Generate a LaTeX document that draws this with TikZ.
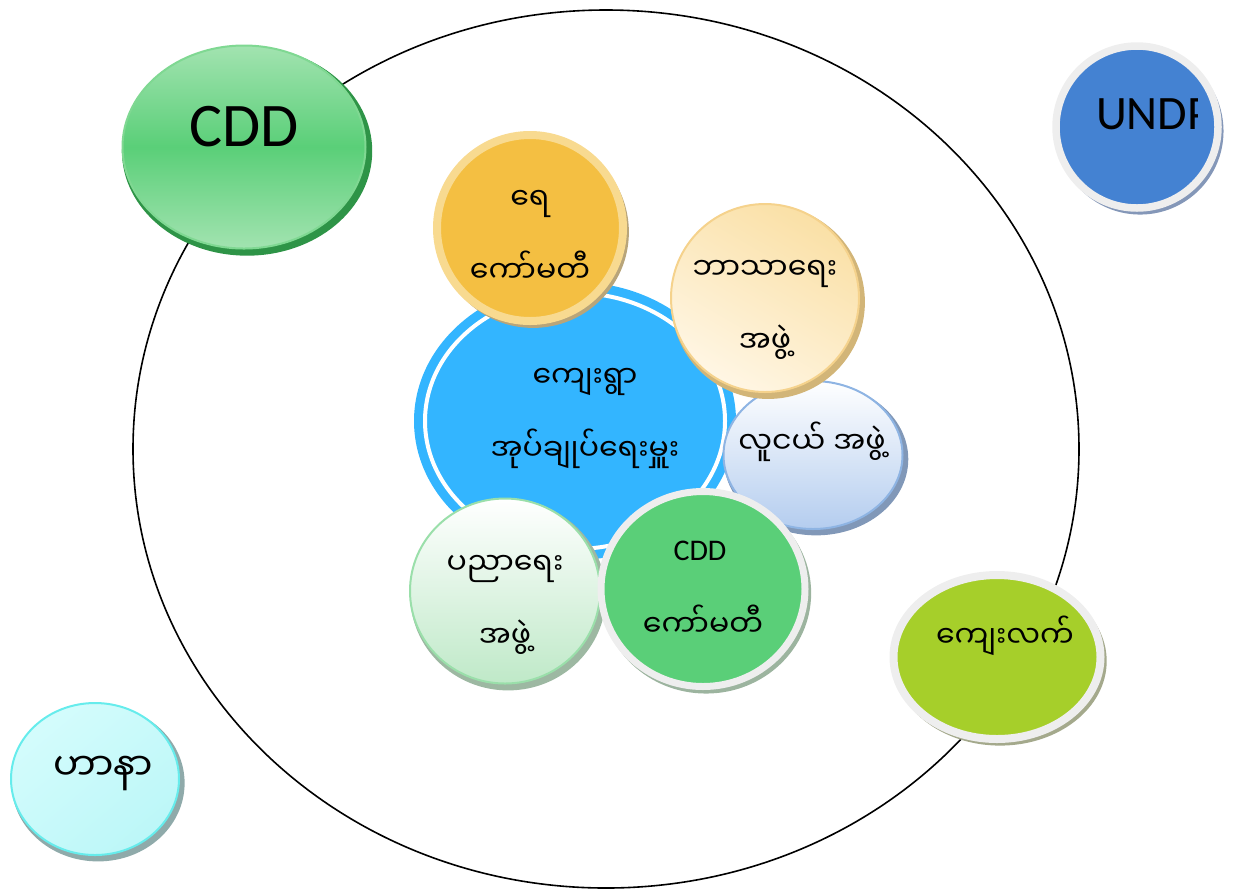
\documentclass[tikz,border=0pt]{standalone}
\usepackage{fontspec}
\setmainfont{Carlito}
\newfontfamily\mmfont[Script=Myanmar]{Noto Sans Myanmar UI}
\usetikzlibrary{shapes.geometric,shadows}

\definecolor{villageblue}{HTML}{33B5FF}
\definecolor{waterin}{HTML}{F4BF42}
\definecolor{waterring}{HTML}{F8DA90}
\definecolor{watershd}{HTML}{B8A57A}
\definecolor{faithtop}{HTML}{FAE0A6}
\definecolor{faithbot}{HTML}{FFF6E4}
\definecolor{faithedge}{HTML}{F5D28C}
\definecolor{faithshd}{HTML}{D2B578}
\definecolor{youthbot}{HTML}{B4CDEF}
\definecolor{youthedge}{HTML}{8EB4E3}
\definecolor{youthshd}{HTML}{8198B8}
\definecolor{edubot}{HTML}{BFE9C8}
\definecolor{eduedge}{HTML}{9ADFAA}
\definecolor{edushd}{HTML}{9DB8A2}
\definecolor{cddgreen}{HTML}{5ACF78}
\definecolor{cddlight}{HTML}{A2E3B0}
\definecolor{cddedge}{HTML}{7FD892}
\definecolor{cdddark}{HTML}{2E9447}
\definecolor{greyring}{HTML}{EEEEEE}
\definecolor{greenshd}{HTML}{9CB49F}
\definecolor{ruralgreen}{HTML}{A6CF2A}
\definecolor{ruralshd}{HTML}{A4A98C}
\definecolor{undpblue}{HTML}{4482D2}
\definecolor{undpshd}{HTML}{8497B8}
\definecolor{hanafill}{HTML}{BCF7F8}
\definecolor{hanalight}{HTML}{D4FCFC}
\definecolor{hanaedge}{HTML}{66ECEC}
\definecolor{hanashd}{HTML}{8FAAAA}

\newcommand{\pxu}{0.5pt}

\begin{document}
\begin{tikzpicture}[
	x=\pxu, y=-\pxu,
	every node/.style={inner sep=0pt, outer sep=0pt},
	bubble/.style={circle, minimum size=#1*\pxu},
	oval/.style args={#1/#2}{ellipse, minimum width=#1*\pxu, minimum height=#2*\pxu},
	ringed/.style 2 args={draw=#1, line width=8*\pxu, fill=#2},
	thinedge/.style={draw=#1, line width=2*\pxu},
	dropshd/.style={general shadow={fill=#1, shadow xshift=3*\pxu, shadow yshift=-4*\pxu, shadow scale=1.03}},
	mmtxt/.style={font=\mmfont\fontsize{15}{36.5}\selectfont, align=center},
	lattxt/.style={font=\fontsize{#1}{#1}\selectfont}
	]
	\useasboundingbox (0,0) rectangle (1237,891);

	% outer boundary and the groups round it
	\node[oval={946/878}, draw=black, line width=1.6*\pxu] (boundary) at (606,449) {};
	\node[oval={243/203}, thinedge=cddedge, dropshd=cdddark,
		top color=cddlight, bottom color=cddlight, middle color=cddgreen] (cddTop) at (244,147) {};
	\node[lattxt=31] (cddTopT) at (244,127) {CDD};
	\node[bubble=162, ringed={greyring}{undpblue}, line width=7.5*\pxu, dropshd=undpshd] (undp) at (1137,127) {};
	\begin{scope}
		\clip (1040,40) rectangle (1197,215);
		\node[lattxt=24, anchor=west] (undpT) at (1096,114) {UNDP};
	\end{scope}
	\node[oval={168/152}, thinedge=hanaedge, dropshd=hanashd,
		top color=hanalight, bottom color=hanafill, shading angle=40] (hana) at (95,779) {};
	\node[mmtxt, font=\mmfont\fontsize{19}{22}\selectfont] (hanaT) at (103,773) {ဟာနာ};
	\node[oval={207/164}, ringed={greyring}{ruralgreen}, dropshd=ruralshd] (rural) at (997,657) {};
	\node[mmtxt] (ruralT) at (1005,636) {ကျေးလက်};

	% village head in the middle
	\node[oval={300/256}, draw=villageblue, fill=villageblue, line width=9*\pxu,
		double=white, double distance=4*\pxu] (head) at (575,421) {};
	\node[mmtxt] (headT) at (585,418) {ကျေးရွာ\\အုပ်ချုပ်ရေးမှူး};

	% committees and groups round the head
	\node[oval={179/148}, thinedge=youthedge, dropshd=youthshd,
		top color=white, bottom color=youthbot] (youth) at (813,455) {};
	\node[mmtxt] (youthT) at (812,442) {လူငယ် အဖွဲ့};
	\node[oval={190/185}, thinedge=eduedge, dropshd=edushd,
		top color=white, bottom color=edubot] (edu) at (505,591) {};
	\node[mmtxt] (eduT) at (505,605) {ပညာရေး\\အဖွဲ့};
	\node[oval={204/195}, ringed={greyring}{cddgreen}, line width=7*\pxu, dropshd=greenshd] (cddCom) at (703,589) {};
	\node[mmtxt, font=\fontsize{15}{36.5}\selectfont] (cddComA) at (700,551) {CDD};
	\node[mmtxt] (cddComB) at (703,621) {ကော်မတီ};
	\node[bubble=186, ringed={waterring}{waterin}, dropshd=watershd] (water) at (530,228) {};
	\node[mmtxt] (waterT) at (530,236) {ရေ\\ကော်မတီ};
	\node[bubble=188, thinedge=faithedge, dropshd=faithshd,
		top color=faithtop, bottom color=faithbot, shading angle=-30] (faith) at (765,298) {};
	\node[mmtxt] (faithT) at (765,310) {ဘာသာရေး\\အဖွဲ့};
\end{tikzpicture}
\end{document}
